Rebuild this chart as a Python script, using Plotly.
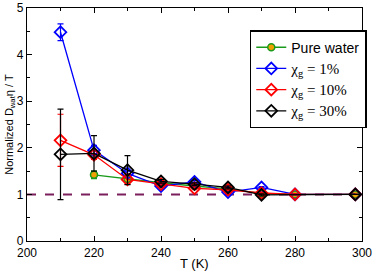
import plotly.graph_objects as go

T_pure = [220, 230, 240, 250, 260, 270, 280, 298]
pure = [1.42, 1.33, 1.25, 1.18, 1.12, 1.02, 1.0, 1.0]
pure_err = [0.08, 0.05, 0.03, 0.03, 0.02, 0.02, 0.01, 0.0]

T_mix = [210, 220, 230, 240, 250, 260, 270, 280, 298]
x1 = [4.48, 1.95, 1.45, 1.18, 1.27, 1.05, 1.15, 1.0, 1.0]
x1_err = [0.18, 0.1, 0.05, 0.03, 0.03, 0.02, 0.02, 0.01, 0.0]
x10 = [2.16, 1.85, 1.32, 1.22, 1.13, 1.1, 1.03, 1.0, 1.0]
x10_err = [0.56, 0.1, 0.1, 0.03, 0.03, 0.02, 0.02, 0.01, 0.0]
T_30 = [210, 220, 230, 240, 250, 260, 270, 298]
x30 = [1.86, 1.88, 1.52, 1.28, 1.22, 1.15, 0.99, 1.0]
x30_err = [0.97, 0.38, 0.31, 0.04, 0.03, 0.03, 0.02, 0.0]

serif = "Liberation Serif"

fig = go.Figure()
fig.add_trace(go.Scatter(x=[200, 300], y=[1, 1], mode="lines",
                         line=dict(color="#7a1f5c", width=2, dash="dash"),
                         showlegend=False, hoverinfo="skip"))

def add(x, y, e, name, color, marker):
    fig.add_trace(go.Scatter(
        x=x, y=y, name=name, mode="lines+markers",
        line=dict(color=color, width=1.3),
        marker=marker,
        error_y=dict(type="data", array=e, color=color, thickness=1.2, width=3),
    ))

add(T_pure, pure, pure_err, "Pure water", "#1a9a1a",
    dict(symbol="circle", size=7, color="#f0a000", line=dict(color="#1a9a1a", width=1.5)))
add(T_mix, x1, x1_err, f"<span style='font-family:{serif};font-size:15px'>χ<sub>g</sub> = 1%</span>", "#0000ff",
    dict(symbol="diamond-open", size=9, color="#0000ff", line=dict(width=1.8)))
add(T_mix, x10, x10_err, f"<span style='font-family:{serif};font-size:15px'>χ<sub>g</sub> = 10%</span>", "#ff0000",
    dict(symbol="diamond-open", size=9, color="#ff0000", line=dict(width=1.8)))
add(T_30, x30, x30_err, f"<span style='font-family:{serif};font-size:15px'>χ<sub>g</sub> = 30%</span>", "#000000",
    dict(symbol="diamond-open", size=9, color="#000000", line=dict(width=1.8)))

axis_common = dict(showgrid=False, zeroline=False, showline=True, linecolor="black",
                   linewidth=1.2, mirror="allticks", ticks="inside", ticklen=5,
                   tickcolor="black", tickfont=dict(size=12, color="black"),
                   automargin=False)

fig.update_layout(
    width=374, height=271,
    margin=dict(l=27, r=12, t=8, b=30, autoexpand=False),
    paper_bgcolor="white", plot_bgcolor="white",
    font=dict(family="Liberation Sans", color="black"),
    xaxis=dict(range=[200, 300], dtick=20,
               minor=dict(ticks="inside", dtick=10, ticklen=3, tickcolor="black"),
               **axis_common),
    yaxis=dict(range=[0, 5], dtick=1,
               title=dict(text="Normalized D<sub>wat</sub>η / T", font=dict(size=11), standoff=0),
               minor=dict(ticks="inside", dtick=0.5, ticklen=3, tickcolor="black"),
               **axis_common),
    legend=dict(x=0.665, y=0.905, xanchor="left", yanchor="top",
                bordercolor="black", borderwidth=1.5, bgcolor="white",
                font=dict(size=14, color="black"), tracegroupgap=0, itemwidth=30),
    showlegend=True,
    annotations=[dict(text="T (K)", xref="paper", yref="paper", x=0.5, y=-0.095,
                      xanchor="center", yanchor="middle", showarrow=False,
                      font=dict(size=13, color="black"))],
)

fig.write_html("out.html", config={"displayModeBar": False})
with open("out.html", encoding="utf-8") as f:
    html = f.read()
html = html.replace("<head>", "<head><style>html,body{margin:0;padding:0;overflow:hidden;}</style>", 1)
with open("out.html", "w", encoding="utf-8") as f:
    f.write(html)
